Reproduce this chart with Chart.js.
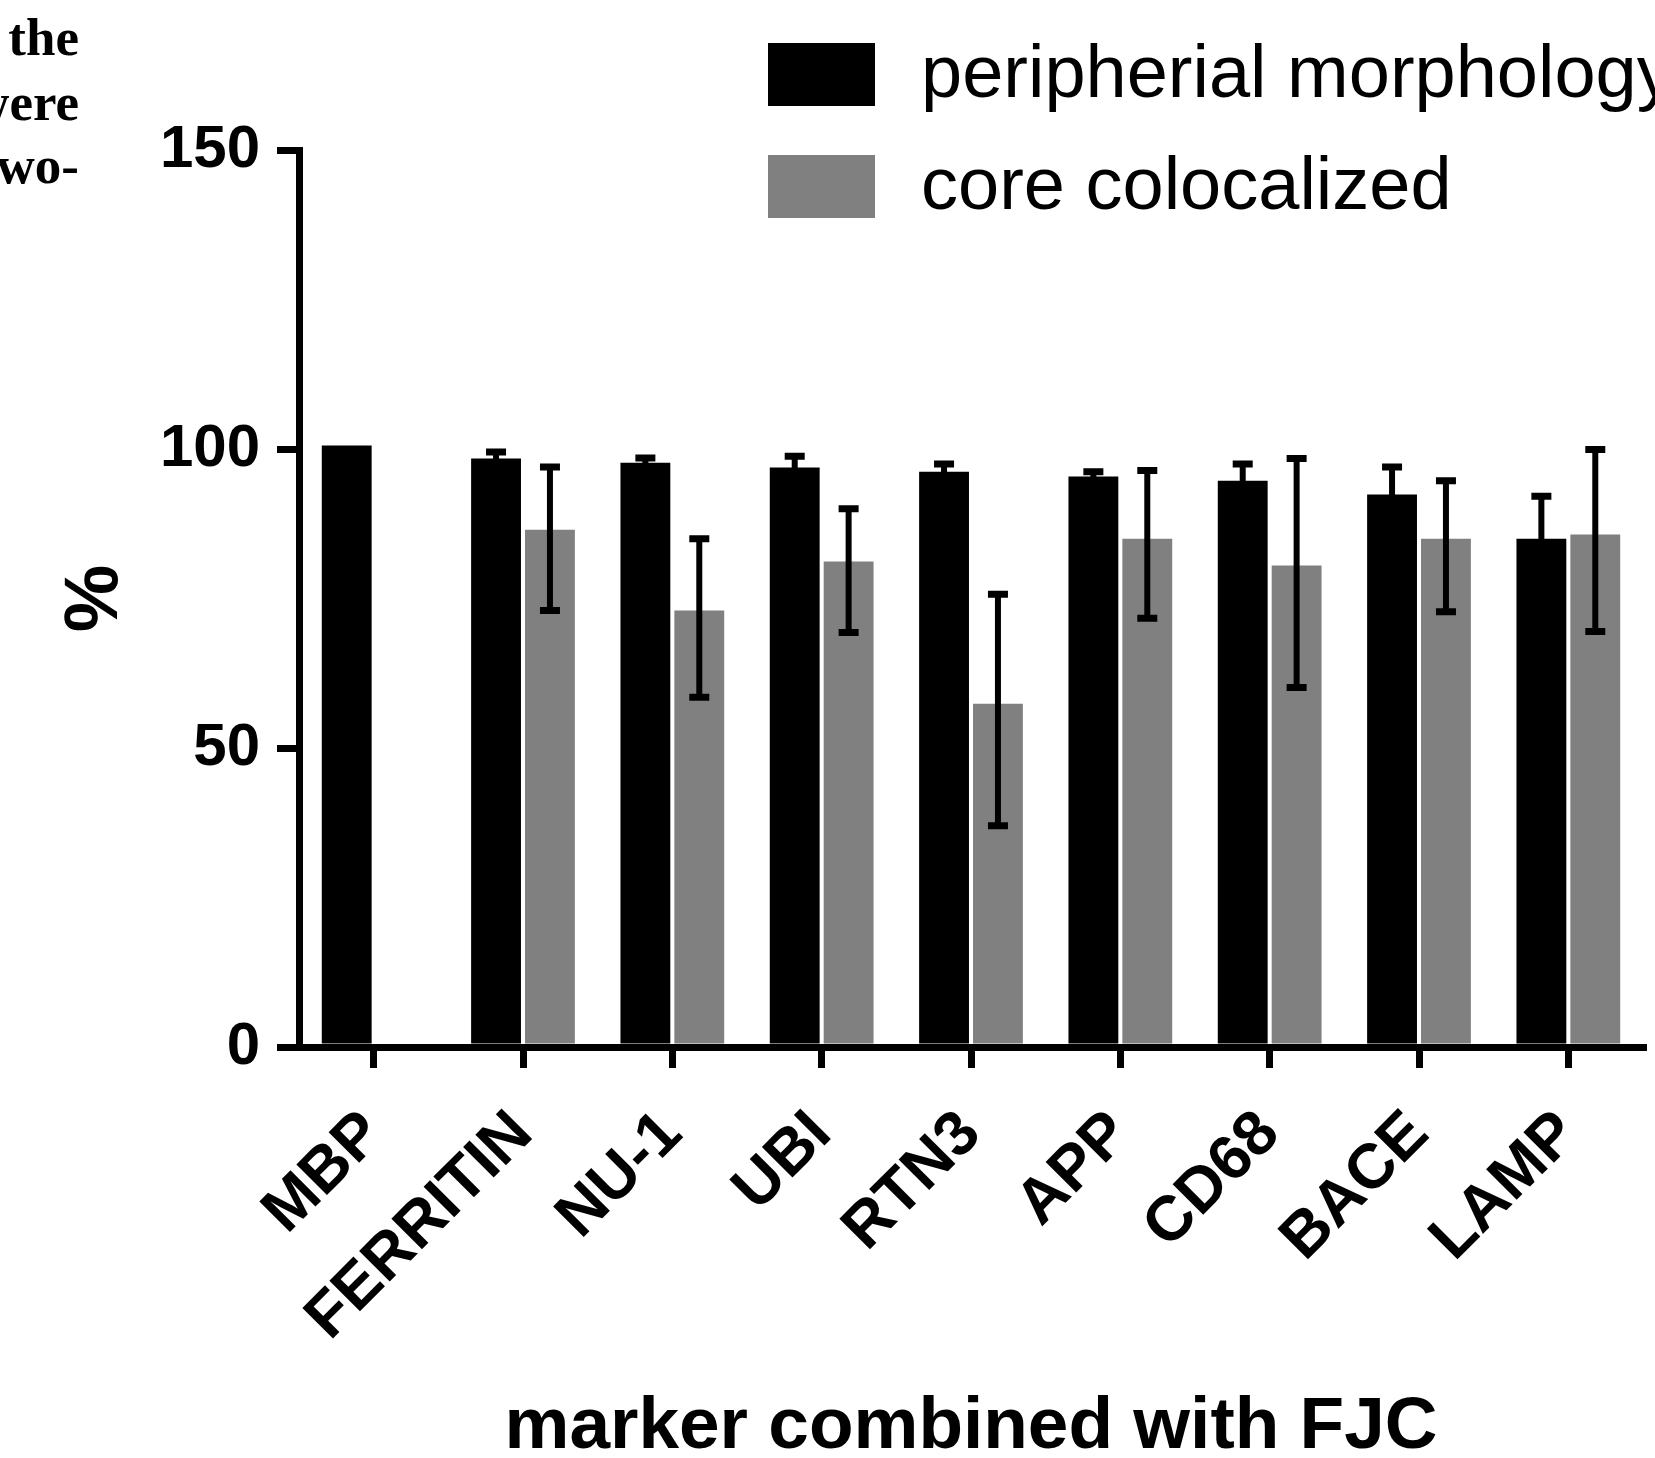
<!DOCTYPE html>
<html>
<head>
<meta charset="utf-8">
<script src="https://cdn.jsdelivr.net/npm/chart.js@4.4.1/dist/chart.umd.min.js"></script>
<style>
    html, body { margin: 0; padding: 0; background: #fff; }
    canvas { display: block; }
</style>
</head>
<body>
<canvas id="marcadores" width="1655" height="1458"></canvas>
<script>
// Datos
var categorias = ['MBP', 'FERRITIN', 'NU-1', 'UBI', 'RTN3', 'APP', 'CD68', 'BACE', 'LAMP'];
var periferica = [100.6, 98.4, 97.7, 96.9, 96.2, 95.4, 94.7, 92.4, 85.0];
var perifericaErrArriba = [0, 1.1, 0.8, 1.9, 1.3, 0.8, 2.8, 4.6, 7.1];
var perifericaErrAbajo = [0, 1.1, 0.8, 1.9, 1.3, 0.8, 2.8, 4.6, 7.1];
var nucleo = [null, 86.5, 73.0, 81.2, 57.4, 85.0, 80.5, 85.0, 85.7];
var nucleoErrArriba = [0, 10.5, 12.0, 8.8, 18.3, 11.4, 17.9, 9.7, 14.2];
var nucleoErrAbajo = [0, 13.5, 14.5, 11.9, 20.4, 13.3, 20.4, 12.2, 16.2];
var ticksY = [0, 50, 100, 150];
var textoPagina = ['the', 'were', 'wo-'];

var fuente = "'Liberation Sans', Arial, sans-serif";

// Barras de error dibujadas con la escala y del grafico
var barrasError = {
    id: 'barrasError',
    afterDatasetsDraw: function (chart) {
        var ctx = chart.ctx;
        var escalaY = chart.scales.y;
        chart.data.datasets.forEach(function (ds, i) {
            var meta = chart.getDatasetMeta(i);
            meta.data.forEach(function (barra, j) {
                var valor = ds.data[j];
                if (valor === null || !ds.errArriba[j]) return;
                var arriba = escalaY.getPixelForValue(valor + ds.errArriba[j]);
                var abajo = escalaY.getPixelForValue(valor - ds.errAbajo[j]);
                var x = barra.x;
                ctx.save();
                ctx.strokeStyle = '#000';
                ctx.lineWidth = 6;
                ctx.beginPath();
                ctx.moveTo(x, arriba);
                ctx.lineTo(x, abajo);
                ctx.stroke();
                ctx.lineWidth = 7;
                ctx.beginPath();
                ctx.moveTo(x - 10, arriba);
                ctx.lineTo(x + 10, arriba);
                ctx.moveTo(x - 10, abajo);
                ctx.lineTo(x + 10, abajo);
                ctx.stroke();
                ctx.restore();
            });
        });
    }
};

// Leyenda propia arriba a la derecha
var leyenda = {
    id: 'leyenda',
    afterDraw: function (chart) {
        var ctx = chart.ctx;
        ctx.save();
        chart.data.datasets.forEach(function (ds, i) {
            var y = 43 + i * 112;
            ctx.fillStyle = ds.backgroundColor;
            ctx.fillRect(768, y, 107, 63);
            ctx.fillStyle = '#000';
            ctx.font = '74px ' + fuente;
            ctx.textAlign = 'left';
            ctx.textBaseline = 'alphabetic';
            ctx.fillText(ds.label, 921, y + 54);
        });
        // resto del texto del articulo, arriba a la izquierda
        ctx.font = "bold 53px 'Liberation Serif', 'Times New Roman', serif";
        ctx.textAlign = 'right';
        textoPagina.forEach(function (t, i) {
            ctx.fillText(t, 79, [55, 120, 183][i]);
        });
        ctx.restore();
    }
};

var ctxMarcadores = document.getElementById('marcadores');
new Chart(ctxMarcadores, {
    type: 'bar',
    data: {
        labels: categorias,
        datasets: [{
            label: 'peripherial morphology',
            data: periferica,
            errArriba: perifericaErrArriba,
            errAbajo: perifericaErrAbajo,
            backgroundColor: '#000000'
        },
        {
            label: 'core colocalized',
            data: nucleo,
            errArriba: nucleoErrArriba,
            errAbajo: nucleoErrAbajo,
            backgroundColor: '#808080'
        }]
    },
    options: {
        responsive: false,
        animation: false,
        categoryPercentage: 0.722,
        barPercentage: 0.925,
        layout: {
            padding: { top: 150, right: 12, left: 0, bottom: 0 }
        },
        plugins: {
            legend: { display: false },
            tooltip: { enabled: false }
        },
        scales: {
            x: {
                z: 1,
                grid: {
                    display: true,
                    drawOnChartArea: false,
                    drawTicks: true,
                    tickLength: 21,
                    lineWidth: 7,
                    color: '#000',
                    offset: false
                },
                border: { display: true, width: 7, color: '#000' },
                ticks: {
                    color: '#000',
                    font: { family: fuente, size: 63, weight: 'bold' },
                    minRotation: 45,
                    maxRotation: 45,
                    autoSkip: false,
                    padding: 29
                },
                title: {
                    display: true,
                    text: 'marker combined with FJC',
                    color: '#000',
                    font: { family: fuente, size: 73, weight: 'bold', lineHeight: 1 },
                    padding: { top: 0, bottom: -6 }
                },
                afterFit: function (escala) { escala.height = 411; }
            },
            y: {
                min: 0,
                max: 150,
                grid: {
                    display: true,
                    drawOnChartArea: false,
                    drawTicks: true,
                    tickLength: 22,
                    lineWidth: 7,
                    color: '#000'
                },
                border: { display: true, width: 7, color: '#000' },
                ticks: {
                    color: '#000',
                    font: { family: fuente, size: 60, weight: 'bold' },
                    padding: 17
                },
                afterBuildTicks: function (escala) {
                    escala.ticks = ticksY.map(function (v) { return { value: v }; });
                },
                title: {
                    display: true,
                    text: '%',
                    color: '#000',
                    font: { family: fuente, size: 76, weight: 'bold', lineHeight: 1 },
                    padding: { top: 58, bottom: 0 }
                },
                afterFit: function (escala) { escala.width = 299; }
            }
        }
    },
    plugins: [barrasError, leyenda]
});
</script>
</body>
</html>
